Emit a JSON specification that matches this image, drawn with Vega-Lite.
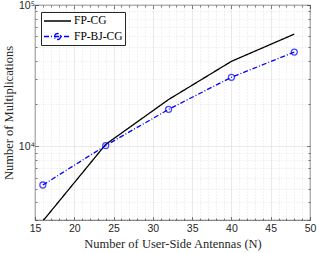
{
  "$schema": "https://vega.github.io/schema/vega-lite/v6.json",
  "width": 275,
  "height": 215,
  "autosize": {"type": "none"},
  "padding": {"left": 35, "top": 5, "right": 7, "bottom": 33},
  "background": "white",
  "config": {
    "view": {"stroke": "#262626", "strokeWidth": 0.8},
    "axis": {
      "labelFont": "Liberation Sans, DejaVu Sans",
      "labelFontSize": 10.5,
      "labelColor": "#262626",
      "titleFont": "Liberation Serif",
      "titleFontSize": 12.5,
      "titleFontWeight": "normal",
      "titleColor": "#262626",
      "domain": false,
      "tickColor": "#262626",
      "tickWidth": 0.6
    }
  },
  "data": {
    "values": [
      {"N": 16, "mult": 2950, "series": "FP-CG"},
      {"N": 24, "mult": 10300, "series": "FP-CG"},
      {"N": 32, "mult": 21400, "series": "FP-CG"},
      {"N": 40, "mult": 39900, "series": "FP-CG"},
      {"N": 48, "mult": 62200, "series": "FP-CG"},
      {"N": 16, "mult": 5310, "series": "FP-BJ-CG"},
      {"N": 24, "mult": 10100, "series": "FP-BJ-CG"},
      {"N": 32, "mult": 18240, "series": "FP-BJ-CG"},
      {"N": 40, "mult": 30760, "series": "FP-BJ-CG"},
      {"N": 48, "mult": 46400, "series": "FP-BJ-CG"}
    ]
  },
  "resolve": {"axis": {"x": "independent", "y": "independent"}},
  "layer": [
    {
      "mark": {"type": "line", "strokeWidth": 1.3, "clip": true},
      "encoding": {
        "x": {
          "field": "N", "type": "quantitative",
          "scale": {"domain": [15, 50], "nice": false, "zero": false},
          "axis": {
            "orient": "bottom",
            "title": "Number of User-Side Antennas (N)",
            "titlePadding": 2,
            "values": [15,16,17,18,19,20,21,22,23,24,25,26,27,28,29,30,31,32,33,34,35,36,37,38,39,40,41,42,43,44,45,46,47,48,49,50],
            "labelExpr": "datum.value % 5 === 0 ? datum.label : ''",
            "labelPadding": 7,
            "labelFlush": false,
            "labelOverlap": false,
            "tickSize": {"condition": {"test": "datum.value % 5 === 0", "value": -3.5}, "value": -2},
            "gridColor": {"condition": {"test": "datum.value % 5 === 0", "value": "#dcdcdc"}, "value": "#d4d4d4"},
            "gridDash": {"condition": {"test": "datum.value % 5 === 0", "value": []}, "value": [1, 2]},
            "gridWidth": 0.6
          }
        },
        "y": {
          "field": "mult", "type": "quantitative",
          "scale": {"type": "log", "domain": [3000, 100000], "nice": false},
          "axis": {
            "orient": "left",
            "title": "Number of Multiplications",
            "titlePadding": 3,
            "values": [3000,4000,5000,6000,7000,8000,9000,10000,20000,30000,40000,50000,60000,70000,80000,90000,100000],
            "labelExpr": "datum.value == 10000 ? '10⁴' : (datum.value == 100000 ? '10⁵' : '')",
            "labelPadding": 4,
            "labelFlush": false,
            "labelOverlap": false,
            "tickSize": {"condition": {"test": "datum.value == 10000 || datum.value == 100000", "value": -3.5}, "value": -2},
            "gridColor": {"condition": {"test": "datum.value == 10000 || datum.value == 100000", "value": "#dcdcdc"}, "value": "#d4d4d4"},
            "gridDash": {"condition": {"test": "datum.value == 10000 || datum.value == 100000", "value": []}, "value": [1, 2]},
            "gridWidth": 0.6
          }
        },
        "color": {
          "field": "series", "type": "nominal",
          "scale": {"domain": ["FP-CG", "FP-BJ-CG"], "range": ["#000000", "#0000ff"]},
          "legend": {
            "title": null,
            "orient": "none",
            "legendX": 6,
            "legendY": 7,
            "direction": "vertical",
            "fillColor": "white",
            "strokeColor": "#262626",
            "padding": 2,
            "rowPadding": 2.5,
            "symbolSize": 144,
            "symbolStrokeWidth": 1.3,
            "symbolType": "M-1,0H3.5",
            "labelFont": "Liberation Serif",
            "labelFontSize": 11.5,
            "labelColor": "#000000",
            "labelOffset": 17,
            "encode": {
              "symbols": {
                "update": {
                  "shape": {"signal": "datum.value == 'FP-BJ-CG' ? 'M-1,0H3.5M1.75,0A0.5,0.5 0 1 1 0.75,0A0.5,0.5 0 1 1 1.75,0' : 'M-1,0H3.5'"}
                }
              }
            }
          }
        },
        "strokeDash": {
          "field": "series", "type": "nominal",
          "scale": {"domain": ["FP-CG", "FP-BJ-CG"], "range": [[1, 0], [5, 2, 1, 2]]},
          "legend": null
        }
      }
    },
    {
      "transform": [{"filter": "datum.series == 'FP-BJ-CG'"}],
      "mark": {"type": "point", "shape": "circle", "filled": false, "size": 36, "strokeWidth": 1.3, "color": "#0000ff", "clip": true},
      "encoding": {
        "x": {
          "field": "N", "type": "quantitative",
          "scale": {"domain": [15, 50], "nice": false, "zero": false},
          "axis": {
            "orient": "top", "title": null, "labels": false, "grid": false,
            "values": [15,16,17,18,19,20,21,22,23,24,25,26,27,28,29,30,31,32,33,34,35,36,37,38,39,40,41,42,43,44,45,46,47,48,49,50],
            "tickSize": {"condition": {"test": "datum.value % 5 === 0", "value": -3.5}, "value": -2}
          }
        },
        "y": {
          "field": "mult", "type": "quantitative",
          "scale": {"type": "log", "domain": [3000, 100000], "nice": false},
          "axis": {
            "orient": "right", "title": null, "labels": false, "grid": false,
            "values": [3000,4000,5000,6000,7000,8000,9000,10000,20000,30000,40000,50000,60000,70000,80000,90000,100000],
            "tickSize": {"condition": {"test": "datum.value == 10000 || datum.value == 100000", "value": -3.5}, "value": -2}
          }
        }
      }
    }
  ]
}
